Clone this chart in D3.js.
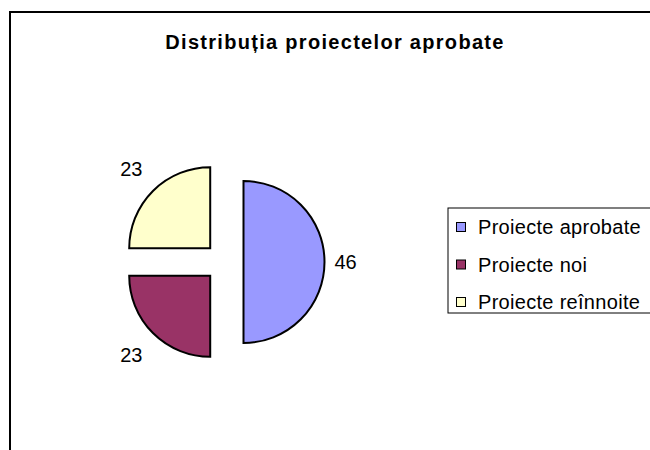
<!DOCTYPE html>
<html>
<head>
<meta charset="utf-8">
<script src="https://cdn.jsdelivr.net/npm/d3@7"></script>
<style>
  html, body { margin: 0; padding: 0; background: #fff; }
  svg { display: block; font-family: Arial, "Liberation Sans", sans-serif; }
</style>
</head>
<body>
<svg id="chart" width="650" height="450"></svg>
<script>
const title = "Distribuția proiectelor aprobate";
const categories = ["Proiecte aprobate", "Proiecte noi", "Proiecte reînnoite"];
const values = [46, 23, 23];
const colors = ["#9999FF", "#993366", "#FFFFCC"];

const svg = d3.select("#chart");

// outer frame
svg.append("rect")
  .attr("x", 10).attr("y", 12)
  .attr("width", 660).attr("height", 460)
  .attr("fill", "#fff").attr("stroke", "#000").attr("stroke-width", 2);

svg.append("text")
  .attr("x", 335).attr("y", 49)
  .attr("text-anchor", "middle")
  .attr("font-weight", "bold")
  .attr("font-size", 20)
  .attr("letter-spacing", 1.3)
  .text(title);

const cx = 224, cy = 262, radius = 81, explode = 19.5;

const pie = d3.pie().sort(null).value(d => d)
  .startAngle(0).endAngle(2 * Math.PI);
const arcs = pie(values);
const arc = d3.arc().innerRadius(0).outerRadius(radius);

const g = svg.append("g").attr("transform", `translate(${cx},${cy})`);

arcs.forEach((a, i) => {
  const mid = (a.startAngle + a.endAngle) / 2;
  const dx = Math.sin(mid) * explode, dy = -Math.cos(mid) * explode;
  const sg = g.append("g").attr("transform", `translate(${dx},${dy})`);
  sg.append("path")
    .attr("d", arc(a))
    .attr("fill", colors[i])
    .attr("stroke", "#000")
    .attr("stroke-width", 2)
    .attr("stroke-linejoin", "miter");
  // label outside: gap + projected half-box
  const ux = Math.sin(mid), uy = -Math.cos(mid);
  const hw = 11, hh = 18;
  const lr = radius + 10 + Math.abs(ux) * hw + Math.abs(uy) * hh;
  sg.append("text")
    .attr("x", ux * lr)
    .attr("y", uy * lr)
    .attr("dy", "0.35em")
    .attr("text-anchor", "middle")
    .attr("font-size", 20)
    .attr("fill", "#000")
    .text(values[i]);
});

// legend
const lg = svg.append("g");
lg.append("rect")
  .attr("x", 448).attr("y", 208)
  .attr("width", 230).attr("height", 105)
  .attr("fill", "#fff").attr("stroke", "#000").attr("stroke-width", 1);

const rowY = d3.scalePoint().domain(categories).range([227, 302]);
categories.forEach((c, i) => {
  const y = rowY(c);
  lg.append("rect")
    .attr("x", 456.5).attr("y", y - 4.5)
    .attr("width", 9).attr("height", 9)
    .attr("fill", colors[i]).attr("stroke", "#000").attr("stroke-width", 1);
  lg.append("text")
    .attr("x", 478).attr("y", y)
    .attr("dy", "0.35em")
    .attr("font-size", 20)
    .attr("letter-spacing", 0.3)
    .text(c);
});
</script>
</body>
</html>
